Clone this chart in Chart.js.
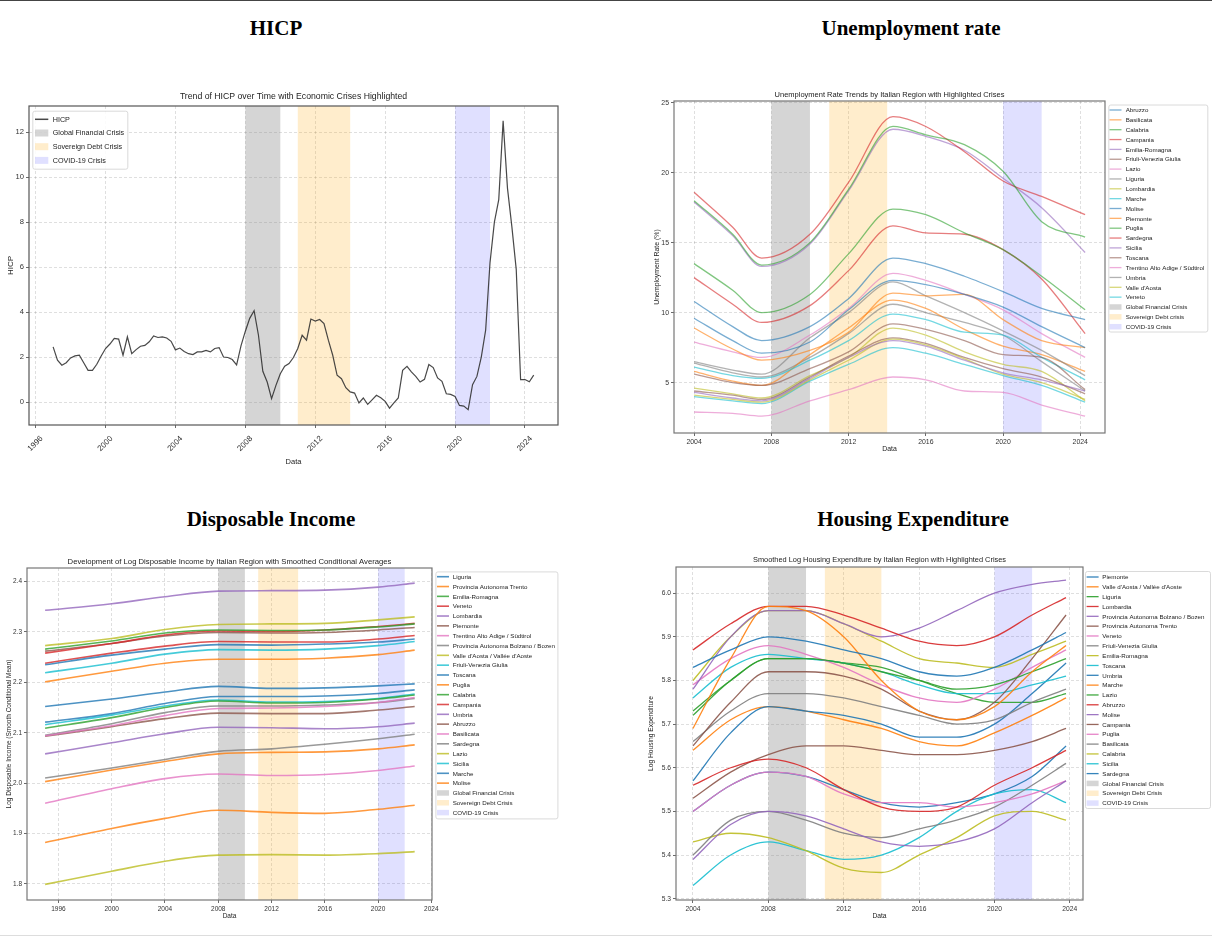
<!DOCTYPE html>
<html>
<head>
<meta charset="utf-8">
<script src="https://cdn.jsdelivr.net/npm/chart.js@4.4.1/dist/chart.umd.min.js"></script>
<style>
html, body { margin: 0; padding: 0; background: #fff; }
body { width: 1212px; height: 938px; position: relative; overflow: hidden; }
.topline { position: absolute; left: 0; top: 0; width: 1212px; height: 1px; background: #444; }
.botline { position: absolute; left: 0; top: 935px; width: 1212px; height: 1px; background: #ddd; }
h2 { position: absolute; margin: 0; font: bold 21px 'Liberation Serif', 'Times New Roman', serif; color: #000;
     transform: translate(-50%, -50%); white-space: nowrap; }
canvas { position: absolute; }
</style>
</head>
<body>
<div class="topline"></div>
<h2 style="left:276px;top:28px">HICP</h2>
<h2 style="left:911px;top:28px">Unemployment rate</h2>
<h2 style="left:271px;top:519px">Disposable Income</h2>
<h2 style="left:913px;top:519px">Housing Expenditure</h2>
<canvas id="hicp" width="570" height="390" style="left:0;top:80px"></canvas>
<canvas id="unemp" width="572" height="380" style="left:640px;top:80px"></canvas>
<canvas id="income" width="565" height="385" style="left:0;top:550px"></canvas>
<canvas id="housing" width="572" height="385" style="left:640px;top:550px"></canvas>
<div class="botline"></div>

<script>
const FONT = "'Liberation Sans', Arial, sans-serif";

// crisis periods
const crisisNames = ['Global Financial Crisis', 'Sovereign Debt Crisis', 'COVID-19 Crisis'];
const crisisNamesUnemp = ['Global Financial Crisis', 'Sovereign Debt crisis', 'COVID-19 Crisis'];
const crisisStart = [2008, 2011, 2020];
const crisisEnd = [2010, 2014, 2022];
const crisisColors = ['rgba(128,128,128,0.33)', 'rgba(255,165,0,0.2)', 'rgba(0,0,255,0.12)'];

// HICP (quarterly)
const hicpDates = [
  1997.00, 1997.25, 1997.50, 1997.75, 1998.00, 1998.25, 1998.50, 1998.75,
  1999.00, 1999.25, 1999.50, 1999.75, 2000.00, 2000.25, 2000.50, 2000.75,
  2001.00, 2001.25, 2001.50, 2001.75, 2002.00, 2002.25, 2002.50, 2002.75,
  2003.00, 2003.25, 2003.50, 2003.75, 2004.00, 2004.25, 2004.50, 2004.75,
  2005.00, 2005.25, 2005.50, 2005.75, 2006.00, 2006.25, 2006.50, 2006.75,
  2007.00, 2007.25, 2007.50, 2007.75, 2008.00, 2008.25, 2008.50, 2008.75,
  2009.00, 2009.25, 2009.50, 2009.75, 2010.00, 2010.25, 2010.50, 2010.75,
  2011.00, 2011.25, 2011.50, 2011.75, 2012.00, 2012.25, 2012.50, 2012.75,
  2013.00, 2013.25, 2013.50, 2013.75, 2014.00, 2014.25, 2014.50, 2014.75,
  2015.00, 2015.25, 2015.50, 2015.75, 2016.00, 2016.25, 2016.50, 2016.75,
  2017.00, 2017.25, 2017.50, 2017.75, 2018.00, 2018.25, 2018.50, 2018.75,
  2019.00, 2019.25, 2019.50, 2019.75, 2020.00, 2020.25, 2020.50, 2020.75,
  2021.00, 2021.25, 2021.50, 2021.75, 2022.00, 2022.25, 2022.50, 2022.75,
  2023.00, 2023.25, 2023.50, 2023.75, 2024.00, 2024.25, 2024.50
];
const hicpValues = [
  2.45, 1.86, 1.64, 1.75, 1.96, 2.05, 2.08, 1.75,
  1.41, 1.41, 1.68, 2.05, 2.38, 2.58, 2.83, 2.80,
  2.08, 2.90, 2.15, 2.33, 2.48, 2.52, 2.68, 2.94,
  2.87, 2.90, 2.85, 2.70, 2.32, 2.40, 2.25, 2.15,
  2.11, 2.23, 2.23, 2.30, 2.23, 2.38, 2.42, 2.00,
  1.98, 1.89, 1.65, 2.50, 3.15, 3.72, 4.06, 2.97,
  1.37, 0.89, 0.15, 0.74, 1.26, 1.59, 1.71, 1.98,
  2.38, 2.97, 2.75, 3.69, 3.60, 3.67, 3.49, 2.75,
  2.08, 1.19, 1.04, 0.64, 0.45, 0.40, -0.04, 0.18,
  -0.10, 0.10, 0.30, 0.19, 0.03, -0.27, -0.04, 0.18,
  1.41, 1.59, 1.34, 1.14, 0.89, 1.01, 1.67, 1.53,
  1.07, 0.92, 0.37, 0.34, 0.25, -0.15, -0.18, -0.34,
  0.77, 1.14, 2.00, 3.20, 6.20, 8.00, 9.00, 12.50,
  9.50, 7.80, 5.90, 1.00, 1.00, 0.90, 1.20
];

// Unemployment rate by region
const unempYears = [2004, 2006, 2007.5, 2010, 2012, 2014.3, 2016, 2018, 2020, 2022, 2024.25];
const unempRegions = ['Abruzzo', 'Basilicata', 'Calabria', 'Campania', 'Emilia-Romagna', 'Friuli-Venezia Giulia',
  'Lazio', 'Liguria', 'Lombardia', 'Marche', 'Molise', 'Piemonte', 'Puglia', 'Sardegna', 'Sicilia', 'Toscana',
  'Trentino Alto Adige / Südtirol', 'Umbria', "Valle d'Aosta", 'Veneto'];
const unempValues = [
  [9.6, 8.0, 7.1, 7.9, 10.2, 12.3, 12.0, 11.3, 10.4, 9.0, 7.5],
  [8.9, 7.4, 6.6, 7.3, 8.6, 11.4, 11.2, 11.3, 9.5, 8.0, 7.5],
  [18.0, 15.6, 13.4, 15.0, 18.8, 23.3, 22.7, 22.0, 20.1, 16.5, 15.4],
  [18.6, 16.1, 13.9, 15.6, 19.3, 24.0, 23.3, 21.5, 19.4, 18.3, 17.0],
  [4.3, 3.9, 3.7, 5.3, 6.8, 8.0, 7.6, 6.6, 5.7, 5.2, 4.4],
  [5.6, 5.0, 4.8, 6.0, 7.2, 9.2, 8.8, 8.0, 7.0, 6.8, 4.5],
  [7.9, 7.2, 6.8, 8.4, 10.3, 12.8, 12.3, 11.3, 10.2, 8.5, 6.8],
  [6.5, 5.9, 5.6, 8.2, 10.0, 12.2, 11.2, 10.0, 8.7, 7.3, 5.5],
  [4.1, 3.8, 3.6, 5.2, 6.6, 8.1, 7.7, 6.7, 5.6, 5.0, 3.8],
  [6.1, 5.5, 5.3, 6.6, 8.0, 9.9, 9.5, 8.6, 8.4, 6.8, 5.2],
  [10.8, 9.0, 8.0, 9.0, 11.0, 13.9, 13.5, 12.6, 11.5, 10.3, 9.5],
  [5.8, 5.1, 4.8, 7.0, 8.9, 10.9, 10.3, 8.8, 7.6, 7.0, 5.8],
  [13.5, 11.6, 10.0, 11.3, 14.2, 17.4, 17.0, 15.7, 14.5, 12.6, 10.2],
  [12.5, 10.6, 9.3, 10.5, 13.0, 16.2, 15.7, 15.6, 14.5, 12.4, 8.5],
  [17.9, 15.5, 13.3, 14.9, 18.7, 23.1, 22.6, 21.6, 19.6, 17.5, 14.3],
  [4.4, 4.1, 3.8, 5.4, 6.9, 8.2, 7.8, 6.8, 6.0, 5.4, 4.2],
  [2.9, 2.8, 2.6, 3.7, 4.5, 5.4, 5.2, 4.4, 4.3, 3.4, 2.6],
  [6.4, 5.7, 5.4, 6.8, 8.5, 10.6, 10.0, 9.3, 8.4, 6.5, 4.4],
  [4.6, 4.2, 3.9, 5.5, 6.8, 8.9, 8.4, 7.2, 6.3, 5.8, 3.7],
  [4.0, 3.7, 3.5, 5.1, 6.3, 7.5, 7.1, 6.3, 5.5, 4.8, 3.6]
];

// Log disposable income by region
const incomeYears = [1995, 2000, 2004, 2008, 2012, 2016, 2020, 2022.75];
const incomeRegions = ['Liguria', 'Provincia Autonoma Trento', 'Emilia-Romagna', 'Veneto', 'Lombardia', 'Piemonte',
  'Trentino Alto Adige / Südtirol', 'Provincia Autonoma Bolzano / Bozen', "Valle d'Aosta / Vallée d'Aoste",
  'Friuli-Venezia Giulia', 'Toscana', 'Puglia', 'Calabria', 'Campania', 'Umbria', 'Abruzzo', 'Basilicata',
  'Sardegna', 'Lazio', 'Sicilia', 'Marche', 'Molise'];
const incomeValues = [
  [2.235, 2.254, 2.266, 2.275, 2.274, 2.276, 2.280, 2.286],
  [2.201, 2.222, 2.238, 2.246, 2.246, 2.248, 2.255, 2.264],
  [2.266, 2.282, 2.298, 2.304, 2.303, 2.304, 2.310, 2.316],
  [2.258, 2.277, 2.294, 2.302, 2.301, 2.304, 2.311, 2.317],
  [2.343, 2.356, 2.370, 2.381, 2.382, 2.383, 2.389, 2.397],
  [2.262, 2.277, 2.292, 2.299, 2.298, 2.299, 2.304, 2.309],
  [2.094, 2.114, 2.134, 2.148, 2.149, 2.152, 2.160, 2.170],
  [2.095, 2.118, 2.140, 2.153, 2.153, 2.155, 2.160, 2.168],
  [2.273, 2.287, 2.305, 2.315, 2.316, 2.317, 2.324, 2.330],
  [2.219, 2.238, 2.256, 2.265, 2.264, 2.266, 2.273, 2.281],
  [2.152, 2.167, 2.181, 2.192, 2.188, 2.189, 2.193, 2.197],
  [1.882, 1.910, 1.930, 1.946, 1.942, 1.940, 1.948, 1.956],
  [2.109, 2.130, 2.150, 2.163, 2.159, 2.160, 2.167, 2.175],
  [2.238, 2.258, 2.272, 2.281, 2.280, 2.280, 2.286, 2.293],
  [2.058, 2.080, 2.098, 2.111, 2.110, 2.108, 2.112, 2.119],
  [2.093, 2.112, 2.128, 2.139, 2.138, 2.138, 2.145, 2.152],
  [1.960, 1.989, 2.009, 2.018, 2.015, 2.017, 2.025, 2.034],
  [2.010, 2.030, 2.047, 2.063, 2.068, 2.077, 2.088, 2.097],
  [1.799, 1.825, 1.845, 1.857, 1.858, 1.857, 1.860, 1.864],
  [2.116, 2.135, 2.153, 2.165, 2.161, 2.162, 2.168, 2.177],
  [2.121, 2.138, 2.158, 2.172, 2.172, 2.173, 2.178, 2.185],
  [2.003, 2.026, 2.043, 2.058, 2.061, 2.062, 2.068, 2.076]
];

// Log housing expenditure by region
const housingYears = [2004, 2006, 2008, 2010, 2012, 2014, 2016, 2018, 2020, 2022, 2023.8];
const housingRegions = ['Piemonte', "Valle d'Aosta / Vallée d'Aoste", 'Liguria', 'Lombardia',
  'Provincia Autonoma Bolzano / Bozen', 'Provincia Autonoma Trento', 'Veneto', 'Friuli-Venezia Giulia',
  'Emilia-Romagna', 'Toscana', 'Umbria', 'Marche', 'Lazio', 'Abruzzo', 'Molise', 'Campania', 'Puglia',
  'Basilicata', 'Calabria', 'Sicilia', 'Sardegna'];
const housingValues = [
  [5.83, 5.87, 5.90, 5.89, 5.87, 5.85, 5.82, 5.81, 5.83, 5.87, 5.91],
  [5.69, 5.85, 5.97, 5.96, 5.90, 5.80, 5.73, 5.71, 5.74, 5.82, 5.88],
  [5.73, 5.80, 5.85, 5.85, 5.84, 5.82, 5.80, 5.78, 5.79, 5.82, 5.85],
  [5.87, 5.93, 5.97, 5.97, 5.95, 5.92, 5.89, 5.88, 5.90, 5.95, 5.99],
  [5.78, 5.90, 5.96, 5.96, 5.93, 5.90, 5.92, 5.96, 6.00, 6.02, 6.03],
  [5.65, 5.75, 5.82, 5.82, 5.81, 5.78, 5.73, 5.71, 5.75, 5.85, 5.95],
  [5.79, 5.85, 5.88, 5.86, 5.83, 5.79, 5.76, 5.75, 5.78, 5.83, 5.87],
  [5.66, 5.73, 5.77, 5.77, 5.76, 5.74, 5.72, 5.70, 5.71, 5.75, 5.78],
  [5.80, 5.90, 5.96, 5.96, 5.93, 5.89, 5.85, 5.84, 5.83, 5.86, 5.89],
  [5.76, 5.83, 5.86, 5.85, 5.84, 5.82, 5.79, 5.77, 5.77, 5.79, 5.81],
  [5.57, 5.68, 5.74, 5.73, 5.72, 5.70, 5.67, 5.67, 5.70, 5.77, 5.84],
  [5.64, 5.71, 5.74, 5.73, 5.71, 5.69, 5.66, 5.65, 5.68, 5.72, 5.76],
  [5.72, 5.80, 5.85, 5.85, 5.84, 5.83, 5.80, 5.77, 5.75, 5.75, 5.77],
  [5.56, 5.60, 5.62, 5.60, 5.55, 5.51, 5.50, 5.51, 5.56, 5.60, 5.64],
  [5.39, 5.47, 5.50, 5.49, 5.46, 5.43, 5.42, 5.43, 5.46, 5.52, 5.57],
  [5.53, 5.59, 5.63, 5.65, 5.65, 5.64, 5.63, 5.63, 5.64, 5.66, 5.69],
  [5.50, 5.56, 5.59, 5.58, 5.54, 5.52, 5.52, 5.51, 5.52, 5.54, 5.57],
  [5.40, 5.48, 5.50, 5.48, 5.45, 5.44, 5.46, 5.48, 5.51, 5.56, 5.61],
  [5.43, 5.45, 5.44, 5.41, 5.37, 5.36, 5.40, 5.44, 5.49, 5.50, 5.48],
  [5.33, 5.40, 5.43, 5.41, 5.39, 5.40, 5.44, 5.50, 5.54, 5.55, 5.52],
  [5.50, 5.56, 5.59, 5.58, 5.55, 5.52, 5.51, 5.52, 5.54, 5.58, 5.65]
];

const tab10 = ['#1f77b4', '#ff7f0e', '#2ca02c', '#d62728', '#9467bd', '#8c564b', '#e377c2', '#7f7f7f', '#bcbd22', '#17becf'];
function rgba(hex, a) {
  const n = parseInt(hex.slice(1), 16);
  return `rgba(${n >> 16},${(n >> 8) & 255},${n & 255},${a})`;
}

Chart.defaults.font.family = FONT;
Chart.defaults.color = '#333';
Chart.defaults.animation = false;
Chart.defaults.responsive = false;
Chart.defaults.devicePixelRatio = 1;

// crisis bands, frame, small title and boxed legend
const decor = {
  id: 'decor',
  beforeDatasetsDraw(chart) {
    const { ctx, chartArea: a, scales: { x } } = chart;
    ctx.save();
    crisisStart.forEach((s, i) => {
      const x0 = x.getPixelForValue(s), x1 = x.getPixelForValue(crisisEnd[i]);
      ctx.fillStyle = crisisColors[i];
      ctx.fillRect(x0, a.top, x1 - x0, a.bottom - a.top);
    });
    ctx.restore();
  },
  afterDraw(chart, args, o) {
    const { ctx, chartArea: a } = chart;
    ctx.save();
    ctx.strokeStyle = o.frameColor;
    ctx.lineWidth = 1.2;
    ctx.strokeRect(a.left, a.top, a.right - a.left, a.bottom - a.top);

    ctx.fillStyle = '#222';
    ctx.font = o.titleSize + 'px ' + FONT;
    ctx.textAlign = 'center';
    ctx.textBaseline = 'middle';
    ctx.fillText(o.title, (a.left + a.right) / 2, o.titleY);

    const L = o.legend;
    const bx = (L.inside ? a.left : a.right) + L.dx, by = a.top + L.dy;
    ctx.fillStyle = 'rgba(255,255,255,0.85)';
    ctx.strokeStyle = '#d0d0d0';
    ctx.lineWidth = 0.8;
    ctx.beginPath();
    ctx.roundRect(bx + 0.5, by + 0.5, L.w, L.h, 2);
    ctx.fill();
    ctx.stroke();

    const items = chart.data.datasets.map(d => ({ label: d.label, color: d.borderColor, line: true }))
      .concat(o.bandNames.map((n, i) => ({ label: n, color: crisisColors[i], line: false })));
    ctx.font = L.size + 'px ' + FONT;
    ctx.textAlign = 'left';
    items.forEach((it, i) => {
      const cy = by + L.first + i * L.row;
      if (it.line) {
        ctx.strokeStyle = it.color;
        ctx.lineWidth = L.lw;
        ctx.beginPath();
        ctx.moveTo(bx + L.hx, cy);
        ctx.lineTo(bx + L.hx + L.hw, cy);
        ctx.stroke();
      } else {
        ctx.fillStyle = it.color;
        ctx.fillRect(bx + L.hx, cy - L.bh / 2, L.hw, L.bh);
      }
      ctx.fillStyle = '#222';
      ctx.fillText(it.label, bx + L.tx, cy + 0.5);
    });
    ctx.restore();
  }
};

function axis(a, horizontal) {
  return {
    type: 'linear', min: a.min, max: a.max,
    afterFit: s => { if (horizontal) s.height = a.size; else s.width = a.size; },
    ticks: {
      stepSize: a.step, includeBounds: false, autoSkip: false,
      minRotation: a.rot || 0, maxRotation: a.rot || 0,
      labelOffset: a.shift || 0,
      padding: a.pad || 2, color: '#333', font: { size: a.font }, callback: a.fmt
    },
    grid: { color: 'rgba(0,0,0,0.16)', lineWidth: 0.8, tickLength: 3, tickColor: '#444', tickWidth: 0.8 },
    border: { display: false, dash: [3, 2] },
    title: {
      display: true, text: a.title, color: '#222', font: { size: a.tfont || a.font },
      padding: horizontal ? { top: 0, bottom: a.tpad } : { top: a.tpad, bottom: 0 }
    }
  };
}

function makeChart(id, geo, datasets, xa, ya, deco) {
  new Chart(document.getElementById(id), {
    type: 'line',
    data: { datasets },
    options: {
      layout: { padding: { left: 0, top: geo.top, right: geo.right, bottom: 0 } },
      plugins: { legend: { display: false }, tooltip: { enabled: false }, decor: deco },
      scales: { x: axis(xa, true), y: axis(ya, false) },
      elements: { point: { radius: 0 } }
    },
    plugins: [decor]
  });
}

function smoothSets(years, names, values, alpha, width) {
  return names.map((n, i) => ({
    label: n,
    data: years.map((y, j) => ({ x: y, y: values[i][j] })),
    borderColor: rgba(tab10[i % 10], alpha),
    borderWidth: width,
    cubicInterpolationMode: 'monotone',
    fill: false
  }));
}

const yearFmt = v => String(v);

// HICP
makeChart('hicp', { top: 26, right: 12 },
  [{
    label: 'HICP',
    data: hicpDates.map((d, i) => ({ x: d, y: hicpValues[i] })),
    borderColor: 'rgba(40,40,40,0.85)', borderWidth: 1.2, tension: 0, fill: false
  }],
  { min: 1995.62, max: 2025.89, step: 4, rot: 45, shift: 6, pad: 6, font: 8, tfont: 7.5, fmt: yearFmt, title: 'Data', size: 45, tpad: 3.8 },
  { min: -1.02, max: 13.16, step: 2, font: 7.6, tfont: 8, fmt: v => String(v), title: 'HICP', size: 29, tpad: 5.6 },
  {
    title: 'Trend of HICP over Time with Economic Crises Highlighted', titleY: 17, titleSize: 8.7,
    frameColor: '#555', bandNames: crisisNames,
    legend: { inside: true, dx: 3.3, dy: 4.7, w: 95, h: 58, first: 8.6, row: 13.7, hx: 2.7, hw: 13.3, bh: 7, tx: 20.4, size: 7.2, lw: 1.5 }
  });

// Unemployment
makeChart('unemp', { top: 21, right: 107 },
  smoothSets(unempYears, unempRegions, unempValues, 0.6, 1.3),
  { min: 2002.96, max: 2025.28, step: 4, font: 6.9, fmt: yearFmt, title: 'Data', size: 27, tpad: 6.8 },
  { min: 1.4, max: 25.12, step: 5, font: 6.9, fmt: v => String(v), title: 'Unemployment Rate (%)', size: 34, tpad: 12.5 },
  {
    title: 'Unemployment Rate Trends by Italian Region with Highlighted Crises', titleY: 15, titleSize: 7.5,
    frameColor: '#777', bandNames: crisisNamesUnemp,
    legend: { inside: false, dx: 3.3, dy: 3.5, w: 99, h: 227, first: 5.5, row: 9.85, hx: 1.2, hw: 12, bh: 5.5, tx: 17.4, size: 6.2, lw: 1.3 }
  });

// Disposable income
makeChart('income', { top: 18, right: 133 },
  smoothSets(incomeYears, incomeRegions, incomeValues, 0.8, 1.6),
  { min: 1993.64, max: 2024.05, step: 4, font: 6.5, fmt: yearFmt, title: 'Data', size: 35, tpad: 14.8 },
  { min: 1.768, max: 2.427, step: 0.1, font: 6.5, fmt: v => v.toFixed(1), title: 'Log Disposable Income (Smooth Conditional Mean)', size: 27, tpad: 5.1 },
  {
    title: 'Development of Log Disposable Income by Italian Region with Smoothed Conditional Averages', titleY: 12, titleSize: 7.7,
    frameColor: '#777', bandNames: crisisNames,
    legend: { inside: false, dx: 3.4, dy: 3.4, w: 122, h: 247, first: 5.3, row: 9.83, hx: 1.6, hw: 12, bh: 5.5, tx: 17.3, size: 6.2, lw: 1.6 }
  });

// Housing expenditure
makeChart('housing', { top: 17, right: 129 },
  smoothSets(housingYears, housingRegions, housingValues, 0.9, 1.3),
  { min: 2003.1, max: 2024.7, step: 4, font: 6.7, fmt: yearFmt, title: 'Data', size: 35, tpad: 14.8 },
  { min: 5.297, max: 6.06, step: 0.1, font: 6.7, fmt: v => v.toFixed(1), title: 'Log Housing Expenditure', size: 36, tpad: 6.8 },
  {
    title: 'Smoothed Log Housing Expenditure by Italian Region with Highlighted Crises', titleY: 10, titleSize: 7.4,
    frameColor: '#777', bandNames: crisisNames,
    legend: { inside: false, dx: 2, dy: 4, w: 125, h: 237, first: 6, row: 9.83, hx: 1.6, hw: 12, bh: 5.5, tx: 17.3, size: 6.2, lw: 1.3 }
  });
</script>
</body>
</html>
